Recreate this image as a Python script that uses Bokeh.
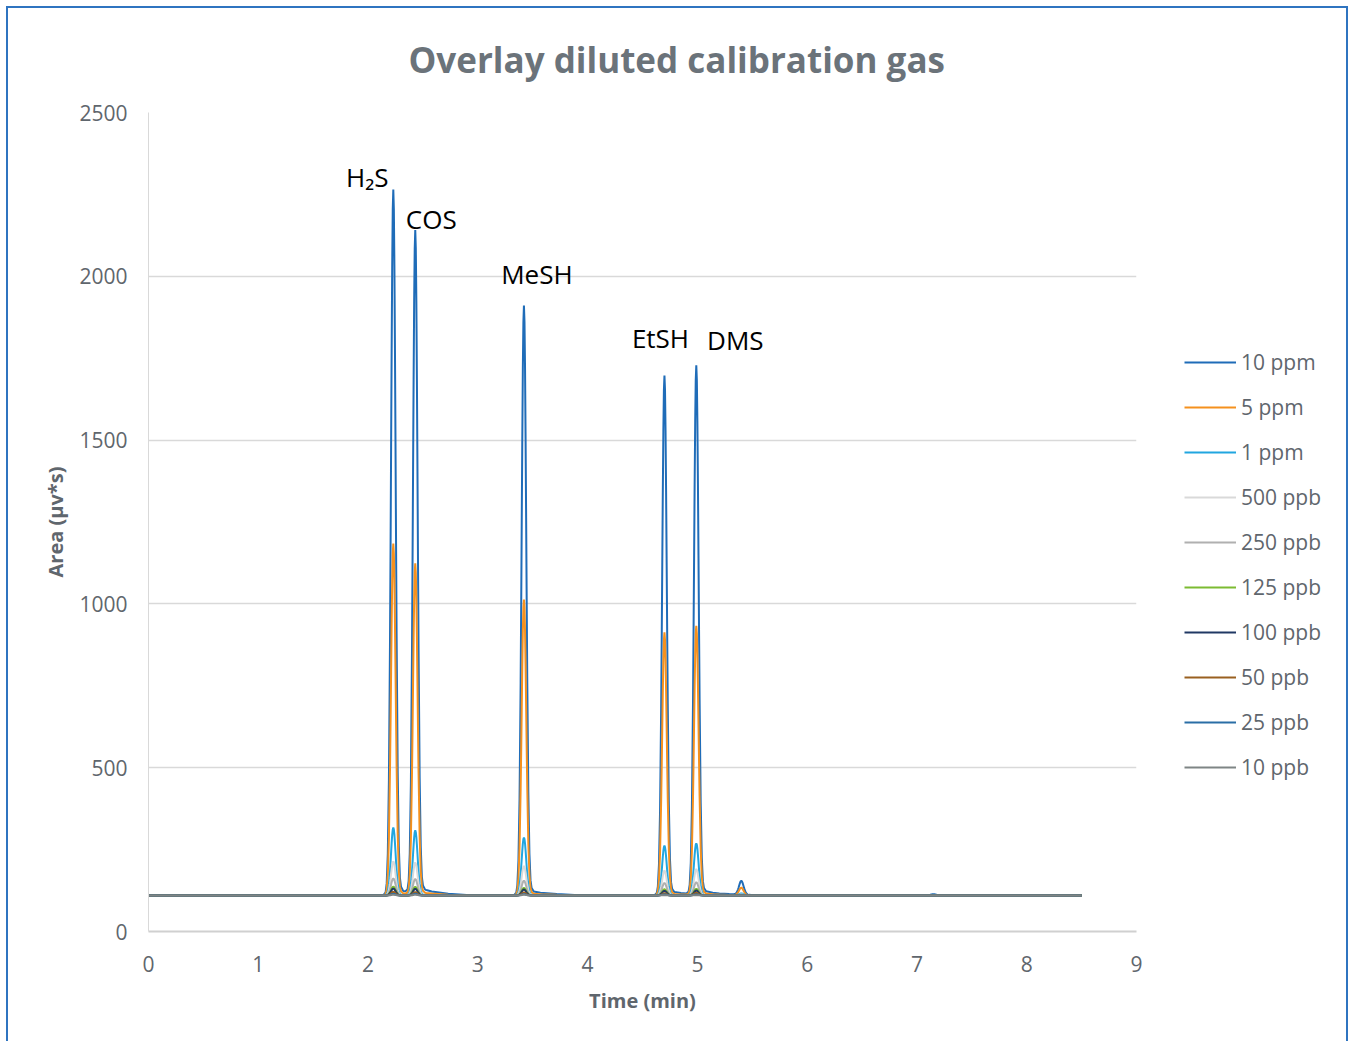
import numpy as np
from bokeh.plotting import figure
from bokeh.layouts import row
from bokeh.models import Legend, LegendItem, Label, FixedTicker, Range1d
from bokeh.embed import file_html
from bokeh.resources import INLINE

# ---------------- data ----------------
series_names = ["10 ppm", "5 ppm", "1 ppm", "500 ppb", "250 ppb",
                "125 ppb", "100 ppb", "50 ppb", "25 ppb", "10 ppb"]
series_colors = ["#1f6cb8", "#f5911e", "#21a6e0", "#d9d9d9", "#b0b0b0",
                 "#7cbb32", "#203864", "#996020", "#2a6ea6", "#7f8585"]

peak_names = ["H₂S", "COS", "MeSH", "EtSH", "DMS", "", ""]
peak_times = [2.23, 2.43, 3.42, 4.70, 4.99, 5.40, 7.15]

baseline = [111, 110, 110, 110, 110, 110, 110, 110, 110, 110]

# apex values (area units) per series, per peak
apex_10ppm = [2265, 2134, 1911, 1697, 1725, 153, 114]
apex_5ppm = [1184, 1120, 1013, 913, 931, 133, 111]
apex_1ppm = [317, 308, 287, 262, 269, 116, 110]
apex_500ppb = [214, 210, 200, 186, 190, 113, 110]
apex_250ppb = [162, 160, 155, 148, 150, 111, 110]
apex_125ppb = [137, 136, 133, 129, 130, 110, 110]
apex_100ppb = [131, 130, 128, 124, 125, 110, 110]
apex_50ppb = [121, 120, 119, 117, 118, 110, 110]
apex_25ppb = [115, 115, 114, 113, 113, 110, 110]
apex_10ppb = [112, 112, 112, 111, 111, 110, 110]
apexes = [apex_10ppm, apex_5ppm, apex_1ppm, apex_500ppb, apex_250ppb,
          apex_125ppb, apex_100ppb, apex_50ppb, apex_25ppb, apex_10ppb]

run_start, run_end = 0.0, 8.5

# peak shape (time offset from apex, fraction of apex height above baseline)
shape_dt = [-0.09, -0.07, -0.06, -0.05, -0.04, -0.03, -0.025, -0.02, -0.015, -0.01, -0.005, 0.0,
            0.005, 0.01, 0.015, 0.02, 0.025, 0.03, 0.04, 0.05, 0.06, 0.07, 0.09, 0.15, 0.3, 0.5]
shape_fr = [0.0, 0.004, 0.017, 0.059, 0.163, 0.36, 0.492, 0.635, 0.775, 0.893, 0.972, 1.0,
            0.972, 0.893, 0.775, 0.64, 0.5, 0.37, 0.175, 0.07, 0.025, 0.012, 0.006, 0.004, 0.002, 0.0]

# ---------------- figure ----------------
FONT = "Open Sans"
GREY = "#5f666d"
TITLE_GREY = "#6b737a"
H = 1033

p = figure(width=1148, height=H, output_backend="svg", toolbar_location=None,
           x_range=Range1d(0, 9), y_range=Range1d(0, 2500),
           min_border_left=140, min_border_top=104, min_border_bottom=110,
           min_border_right=20)

p.title.text = "Overlay diluted calibration gas"
p.title.text_font = FONT
p.title.text_font_size = "35px"
p.title.text_font_style = "bold"
p.title.text_color = TITLE_GREY
p.title.align = "left"
p.title.offset = 260
p.title.vertical_align = "top"
p.title.standoff = 55

p.outline_line_color = None
p.xgrid.grid_line_color = None
p.ygrid.grid_line_color = "#d9d9d9"
p.ygrid.grid_line_width = 1.5

p.xaxis.ticker = FixedTicker(ticks=list(range(0, 10)))
p.yaxis.ticker = FixedTicker(ticks=[0, 500, 1000, 1500, 2000, 2500])
for ax in (p.xaxis[0], p.yaxis[0]):
    ax.major_tick_line_color = None
    ax.minor_tick_line_color = None
    ax.major_label_text_font = FONT
    ax.major_label_text_font_size = "21px"
    ax.major_label_text_color = GREY
    ax.axis_label_text_font = FONT
    ax.axis_label_text_font_size = "20px"
    ax.axis_label_text_font_style = "bold"
    ax.axis_label_text_color = GREY
p.xaxis.axis_line_color = "#d0d0d0"
p.xaxis.axis_line_width = 2
p.yaxis.axis_line_color = "#d9d9d9"
p.yaxis.axis_line_width = 1
p.xaxis.axis_label = "Time (min)"
p.yaxis.axis_label = "Area (µv*s)"
p.xaxis.major_label_standoff = 18
p.xaxis.axis_label_standoff = 12
p.yaxis.major_label_standoff = 15
p.yaxis.axis_label_standoff = 7

# build time grid
dt = np.array(shape_dt)
fr = np.array(shape_fr)
t_grid = sorted(set([run_start, run_end] + [round(tp + d, 4) for tp in peak_times for d in shape_dt]))
t_grid = np.array([t for t in t_grid if run_start <= t <= run_end])

# legend panel as its own plot, same height, no axes
pl = figure(width=190, height=H, output_backend="svg", toolbar_location=None,
            x_range=Range1d(0, 1), y_range=Range1d(0, 1),
            x_axis_location=None, y_axis_location=None,
            min_border_left=0, min_border_right=0, min_border_top=0, min_border_bottom=0)
pl.outline_line_color = None
pl.xgrid.visible = False
pl.ygrid.visible = False

items = []
for name, color, base, apex in zip(series_names, series_colors, baseline, apexes):
    y = np.full(len(t_grid), float(base))
    for tp, a in zip(peak_times, apex):
        y += (a - base) * np.interp(t_grid - tp, dt, fr, left=0.0, right=0.0)
    p.line(t_grid, y, line_color=color, line_width=2)
    r = pl.line([np.nan], [np.nan], line_color=color, line_width=2)
    items.append(LegendItem(label=name, renderers=[r]))

legend = Legend(items=items, location=(28, 150))
legend.glyph_width = 52
legend.glyph_height = 20
legend.label_height = 20
legend.spacing = 17
legend.label_standoff = 5
legend.label_text_font = FONT
legend.label_text_font_size = "21px"
legend.label_text_color = GREY
legend.border_line_color = None
legend.background_fill_alpha = 0
legend.padding = 0
legend.margin = 0
pl.add_layout(legend, "center")

# peak labels: (x offset px, y offset px) of label centre relative to the 10 ppm apex
label_dx = [-26, 16, 13, -4, 39]
label_dy = [12, 13, 31, 38, 26]
for i, nm in enumerate(peak_names[:5]):
    p.add_layout(Label(x=peak_times[i], y=apex_10ppm[i], text=nm,
                       x_offset=label_dx[i], y_offset=label_dy[i],
                       text_align="center", text_baseline="middle",
                       text_font=FONT, text_font_size="26px", text_color="black"))

layout = row(p, pl)
layout.styles = {"border-top": "2px solid #2f74c0", "border-left": "2px solid #2f74c0",
                 "border-right": "2px solid #2f74c0", "margin": "6px 0px 0px 6px"}

open("out.html", "w").write(file_html(layout, INLINE))
